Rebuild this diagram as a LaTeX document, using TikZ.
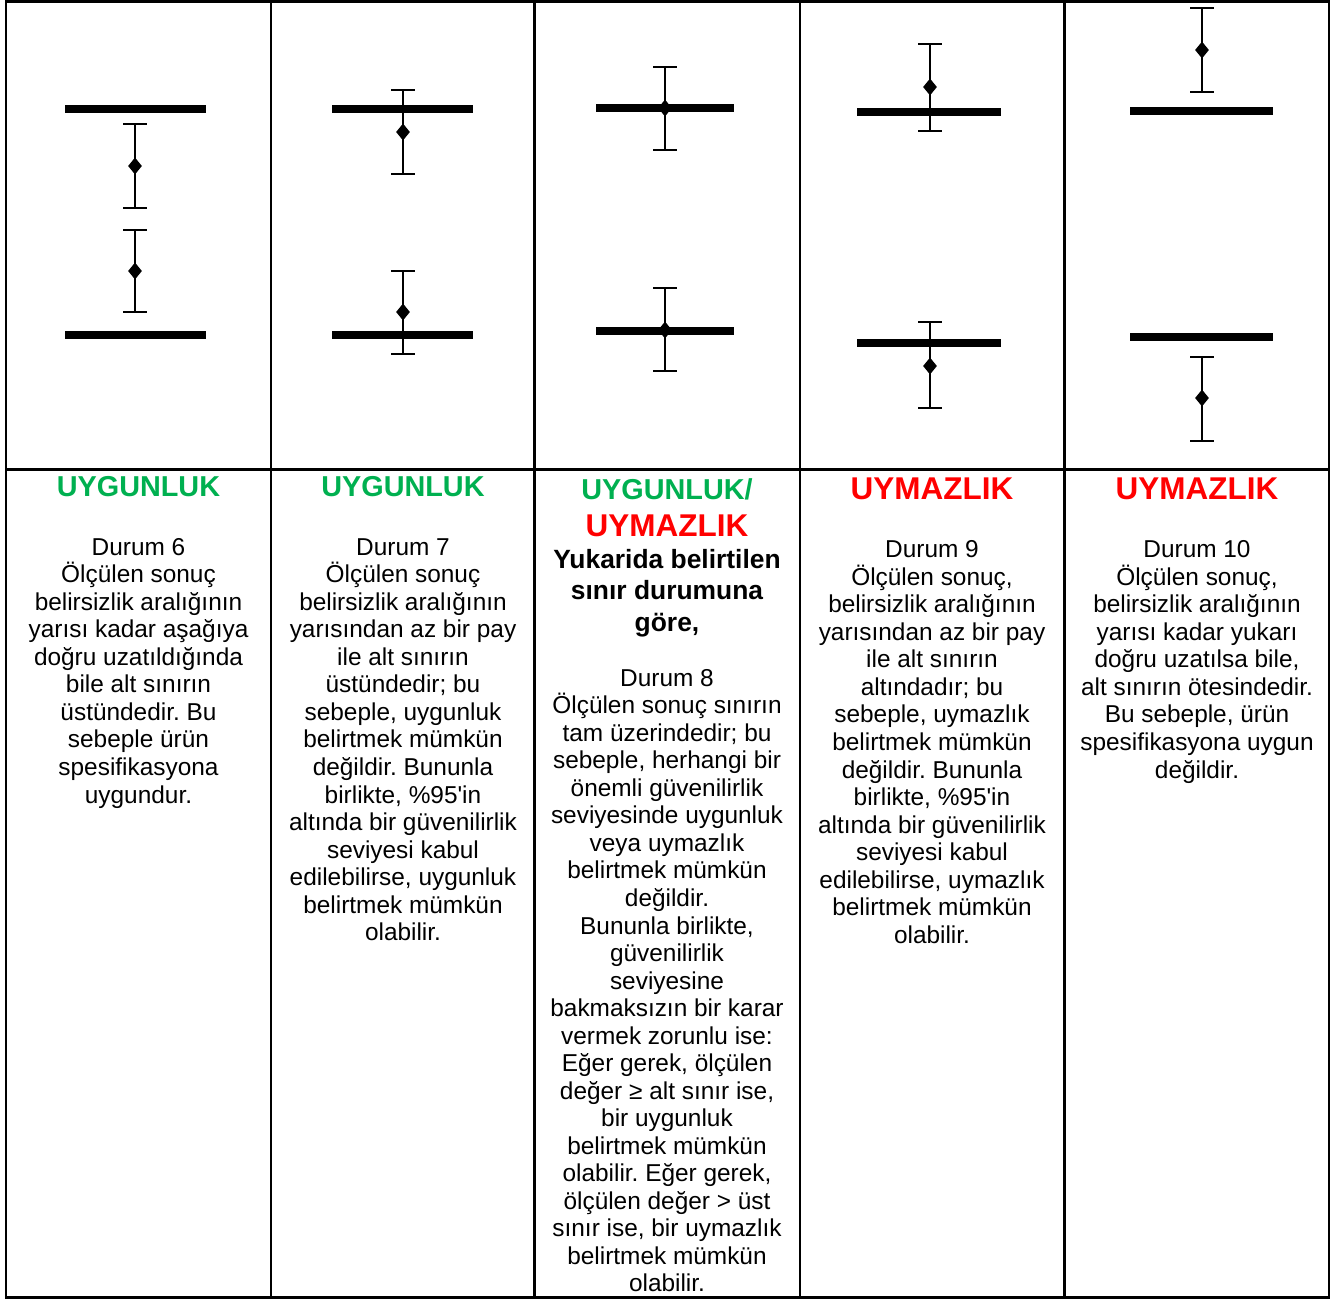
\documentclass[tikz,border=0pt]{standalone}
\usepackage{fontspec}
\setmainfont{Liberation Sans}
\usetikzlibrary{positioning,shapes.geometric}
\definecolor{okgreen}{RGB}{0,176,80}
\definecolor{nokred}{RGB}{255,0,0}
\newcommand{\topstrut}{\rule{0pt}{0.7\baselineskip}}
\frenchspacing

\begin{document}
\begin{tikzpicture}[x=0.75pt,y=-0.75pt,
    rule/.style={line width=1.9pt},
    limit/.style={line width=6pt},
    ebar/.style={line width=1.5pt},
    meanpt/.style={diamond,fill=black,inner sep=0pt,minimum width=10.5pt,minimum height=12.75pt},
    okhead/.style={anchor=base,inner sep=0pt,text=okgreen,font=\fontsize{21.6}{27.5}\selectfont\bfseries},
    nokhead/.style={anchor=base,inner sep=0pt,text=nokred,font=\fontsize{23.6}{27.5}\selectfont\bfseries},
    note/.style={anchor=north,inner sep=0pt,align=center,font=\fontsize{19.8}{23.7}\selectfont\bfseries},
    body/.style={anchor=north,inner sep=0pt,align=center,font=\fontsize{18.3}{20.65}\selectfont}]
  \useasboundingbox (0,0) rectangle (1336,1299);

  % table rules
  \draw[rule] (6,1.5) rectangle (1329,1297.5);
  \draw[rule] (6,469.5) -- (1329,469.5);
  \foreach \x in {271,534.5,800,1064.5}
    \draw[rule] (\x,1.5) -- (\x,1297.5);

  % specification limits
  \foreach \xa/\xb/\y in {65/206/109,65/206/335,332/473/109,332/473/335,
      596/734/108,596/734/331,857/1001/112,857/1001/343,1130/1273/111,1130/1273/337}
    \draw[limit] (\xa,\y) -- (\xb,\y);

  % measured values with uncertainty
  \foreach \xc/\ya/\ym/\yb [count=\i] in {135/124/166/208,135/230/271/312,
      403/90/132/174,403/271/312/354,665/67/108/150,665/288/330/371,
      930/44/87/131,930/322/366/408,1202/8/50/92,1202/357/398/441}{
    \draw[ebar] (\xc,\ya) -- (\xc,\yb);
    \draw[ebar] (\xc-12,\ya) -- (\xc+12,\ya);
    \draw[ebar] (\xc-12,\yb) -- (\xc+12,\yb);
    \node[meanpt] (m\i) at (\xc,\ym) {};
  }

  % verdicts
  \node[okhead] (head1) at (138.5,496) {UYGUNLUK};
  \node[okhead] (head2) at (403,496) {UYGUNLUK};
  \node[okhead] (head3a) at (667,499.3) {UYGUNLUK/};
  \node[nokhead] (head3b) at (667,536) {UYMAZLIK};
  \node[nokhead] (head4) at (932,499.3) {UYMAZLIK};
  \node[nokhead] (head5) at (1197,499.3) {UYMAZLIK};

  \node[note] (note3) at (667,546) {\topstrut Yukarida belirtilen\\sınır durumuna\\göre,};

  % cases
  \node[body] (case6) at (138.5,535.7) {\topstrut Durum 6\\Ölçülen sonuç\\belirsizlik aralığının\\yarısı kadar aşağıya\\doğru uzatıldığında\\bile alt sınırın\\üstündedir. Bu\\sebeple ürün\\spesifikasyona\\uygundur.};
  \node[body] (case7) at (403,535.7) {\topstrut Durum 7\\Ölçülen sonuç\\belirsizlik aralığının\\yarısından az bir pay\\ile alt sınırın\\üstündedir; bu\\sebeple, uygunluk\\belirtmek mümkün\\değildir. Bununla\\birlikte, \%95\textquotesingle in\\altında bir güvenilirlik\\seviyesi kabul\\edilebilirse, uygunluk\\belirtmek mümkün\\olabilir.};
  \node[body] (case8) at (667,666.7) {\topstrut Durum 8\\Ölçülen sonuç sınırın\\tam üzerindedir; bu\\sebeple, herhangi bir\\önemli güvenilirlik\\seviyesinde uygunluk\\veya uymazlık\\belirtmek mümkün\\değildir.\\Bununla birlikte,\\güvenilirlik\\seviyesine\\bakmaksızın bir karar\\vermek zorunlu ise:\\Eğer gerek, ölçülen\\değer ≥ alt sınır ise,\\bir uygunluk\\belirtmek mümkün\\olabilir. Eğer gerek,\\ölçülen değer > üst\\sınır ise, bir uymazlık\\belirtmek mümkün\\olabilir.};
  \node[body] (case9) at (932,538.2) {\topstrut Durum 9\\Ölçülen sonuç,\\belirsizlik aralığının\\yarısından az bir pay\\ile alt sınırın\\altındadır; bu\\sebeple, uymazlık\\belirtmek mümkün\\değildir. Bununla\\birlikte, \%95\textquotesingle in\\altında bir güvenilirlik\\seviyesi kabul\\edilebilirse, uymazlık\\belirtmek mümkün\\olabilir.};
  \node[body] (case10) at (1197,538.2) {\topstrut Durum 10\\Ölçülen sonuç,\\belirsizlik aralığının\\yarısı kadar yukarı\\doğru uzatılsa bile,\\alt sınırın ötesindedir.\\Bu sebeple, ürün\\spesifikasyona uygun\\değildir.};
\end{tikzpicture}
\end{document}
